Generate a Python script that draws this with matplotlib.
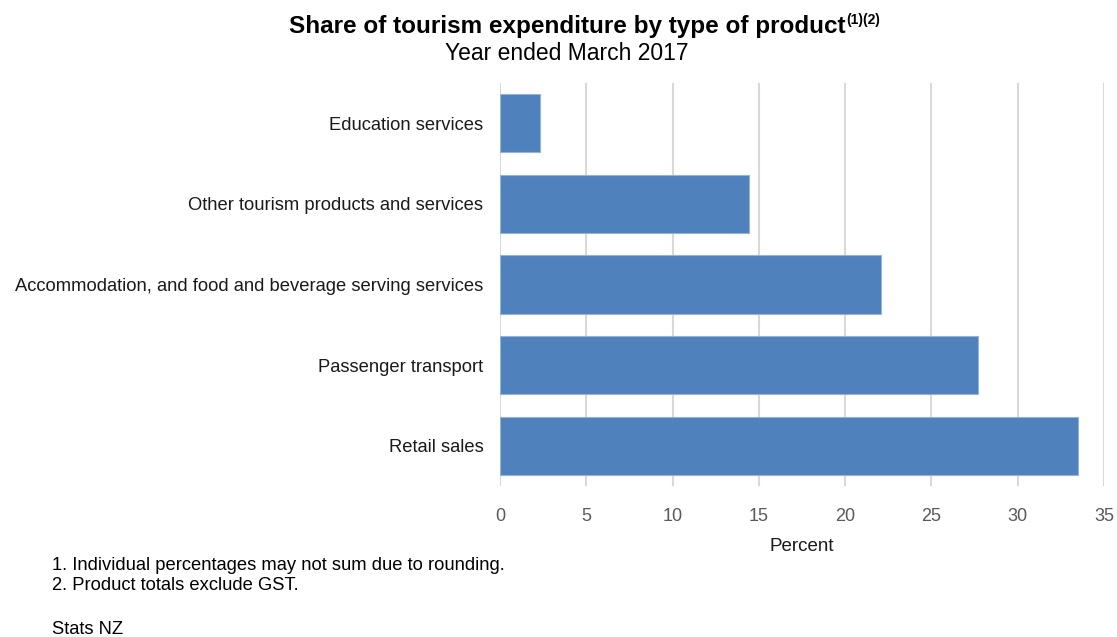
import matplotlib.pyplot as plt

plt.rcParams['font.family'] = ['Liberation Sans', 'DejaVu Sans']

categories = ["Education services",
              "Other tourism products and services",
              "Accommodation, and food and beverage serving services",
              "Passenger transport",
              "Retail sales"]
shares = [2.3, 14.4, 22.1, 27.7, 33.5]
xticks = [0, 5, 10, 15, 20, 25, 30, 35]

fig = plt.figure(figsize=(11.17, 6.37), dpi=100)
ax = fig.add_axes([500 / 1117, 1 - 486 / 637, 604 / 1117, 403 / 637])

ypos = list(range(len(categories)))
ax.barh(ypos, shares, height=0.72, color='#4F81BD', edgecolor='#95B3D7',
        linewidth=0.8, zorder=3)
ax.set_ylim(len(categories) - 0.5, -0.5)
ax.set_xlim(0, 35)
ax.set_yticks(ypos)
ax.set_yticklabels(categories, fontsize=13.2, color='#1a1a1a')
ax.set_xticks(xticks)
ax.set_xticklabels([str(t) for t in xticks], fontsize=13, color='#595959')
ax.tick_params(axis='y', length=0, pad=12)
ax.tick_params(axis='x', length=0, pad=16)
ax.grid(axis='x', color='#D9D9D9', linewidth=1.5, zorder=0)
for s in ax.spines.values():
    s.set_visible(False)
ax.set_xlabel("Percent", fontsize=13.5, color='#1a1a1a', labelpad=9)

# title with superscript notes
t = fig.text(567 / 1117, 1 - 27 / 637, "Share of tourism expenditure by type of product",
             ha='center', va='center', fontsize=17.5, fontweight='bold')
fig.canvas.draw()
bb = t.get_window_extent()
fig.text(bb.x1 / fig.bbox.width + 0.001, 1 - 20 / 637, "(1)(2)",
         ha='left', va='center', fontsize=10, fontweight='bold')
fig.text(567 / 1117, 1 - 53 / 637, "Year ended March 2017",
         ha='center', va='center', fontsize=16.5)

notes = ["1. Individual percentages may not sum due to rounding.",
         "2. Product totals exclude GST."]
fig.text(52 / 1117, 1 - 565 / 637, notes[0], fontsize=13.2, va='center')
fig.text(52 / 1117, 1 - 586 / 637, notes[1], fontsize=13.2, va='center')
fig.text(52 / 1117, 1 - 630 / 637, "Stats NZ", fontsize=13.2, va='center')

fig.savefig("out.png", dpi=100)
